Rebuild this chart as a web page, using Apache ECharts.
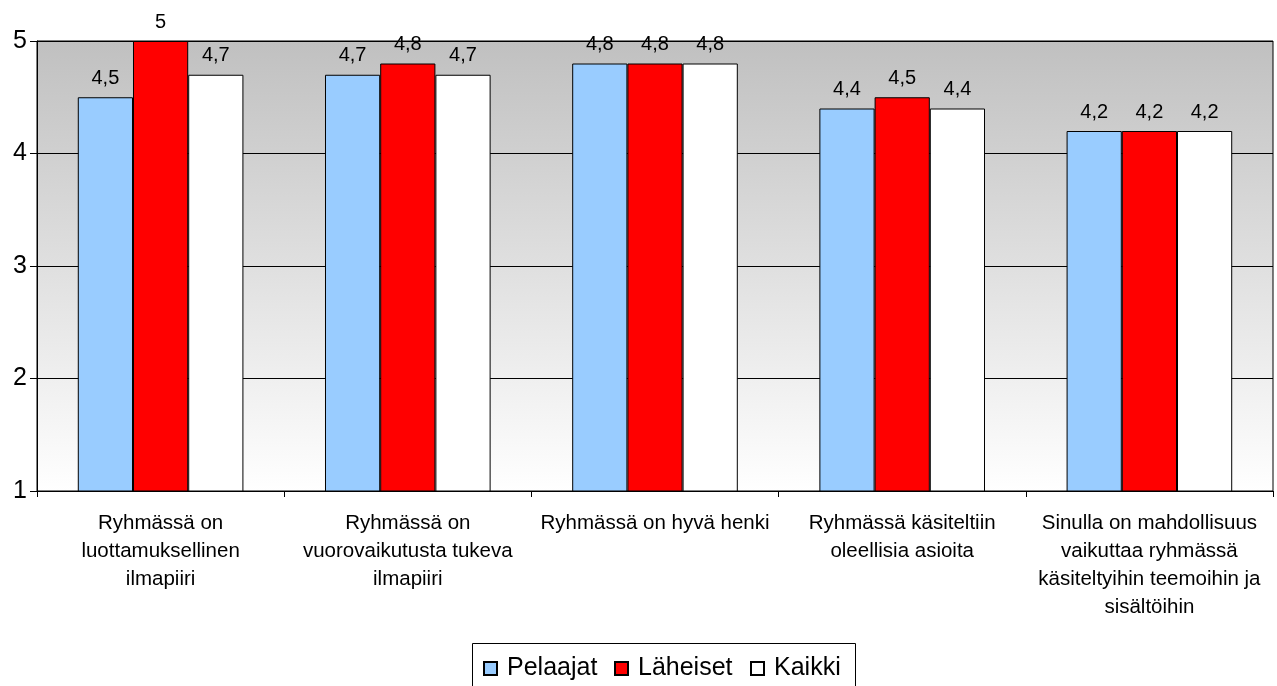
<!DOCTYPE html>
<html>
<head>
<meta charset="utf-8">
<script src="https://cdn.jsdelivr.net/npm/echarts@6/dist/echarts.min.js"></script>
<style>
html,body{margin:0;padding:0;background:#fff;}
#c{width:1277px;height:686px;}
</style>
</head>
<body>
<div id="c"></div>
<script>
const categories = [
  'Ryhmässä on\nluottamuksellinen\nilmapiiri',
  'Ryhmässä on\nvuorovaikutusta tukeva\nilmapiiri',
  'Ryhmässä on hyvä henki',
  'Ryhmässä käsiteltiin\noleellisia asioita',
  'Sinulla on mahdollisuus\nvaikuttaa ryhmässä\nkäsiteltyihin teemoihin ja\nsisältöihin'
];
const seriesNames = ['Pelaajat', 'Läheiset', 'Kaikki'];
const pelaajat = [4.5, 4.7, 4.8, 4.4, 4.2];
const laheiset = [5, 4.8, 4.8, 4.5, 4.2];
const kaikki = [4.7, 4.7, 4.8, 4.4, 4.2];
const colors = ['#99ccff', '#ff0000', '#ffffff'];

const FONT = "'Liberation Sans', Arial, sans-serif";
const chart = echarts.init(document.getElementById('c'));
const dataSets = [pelaajat, laheiset, kaikki];
const legendLefts = [483, 614, 750];
chart.setOption({
  animation: false,
  backgroundColor: '#ffffff',
  textStyle: { fontFamily: FONT, color: '#000' },
  grid: {
    left: 37, right: 4, top: 41, bottom: 195,
    show: true,
    borderColor: '#000', borderWidth: 1,
    backgroundColor: new echarts.graphic.LinearGradient(0, 0, 0, 1, [
      { offset: 0, color: '#c0c0c0' },
      { offset: 1, color: '#ffffff' }
    ])
  },
  graphic: [{
    type: 'rect',
    shape: { x: 472.5, y: 643.5, width: 383, height: 60 },
    style: { fill: '#fff', stroke: '#000', lineWidth: 1 },
    z: -1
  }],
  legend: seriesNames.map((n, i) => ({
    data: [n],
    left: legendLefts[i], top: 656,
    padding: 0,
    itemWidth: 13, itemHeight: 13,
    icon: 'rect',
    textStyle: { fontFamily: FONT, fontSize: 25, color: '#000', padding: [0, 0, 0, 5] }
  })),
  xAxis: {
    type: 'category',
    data: categories,
    axisLine: { lineStyle: { color: '#000', width: 1 } },
    axisTick: { show: true, length: 6, lineStyle: { color: '#000' } },
    axisLabel: { fontFamily: FONT, fontSize: 20.5, lineHeight: 28, color: '#000', margin: 18, interval: 0, align: 'center' }
  },
  yAxis: {
    type: 'value',
    min: 1, max: 5, interval: 1,
    axisLine: { show: true, lineStyle: { color: '#000', width: 1 } },
    axisTick: { show: true, length: 7, lineStyle: { color: '#000' } },
    axisLabel: { fontFamily: FONT, fontSize: 25, color: '#000', margin: 10 },
    splitLine: { show: true, lineStyle: { color: '#000', width: 1 } }
  },
  series: dataSets.map((d, i) => ({
    name: seriesNames[i],
    type: 'bar',
    data: d,
    barGap: '0%',
    barCategoryGap: '33%',
    itemStyle: { color: colors[i], borderColor: '#000', borderWidth: 1 },
    label: {
      show: true, position: 'top', distance: 9,
      fontFamily: FONT, fontSize: 20, color: '#000',
      formatter: p => String(p.value).replace('.', ',')
    }
  }))
});
</script>
</body>
</html>
